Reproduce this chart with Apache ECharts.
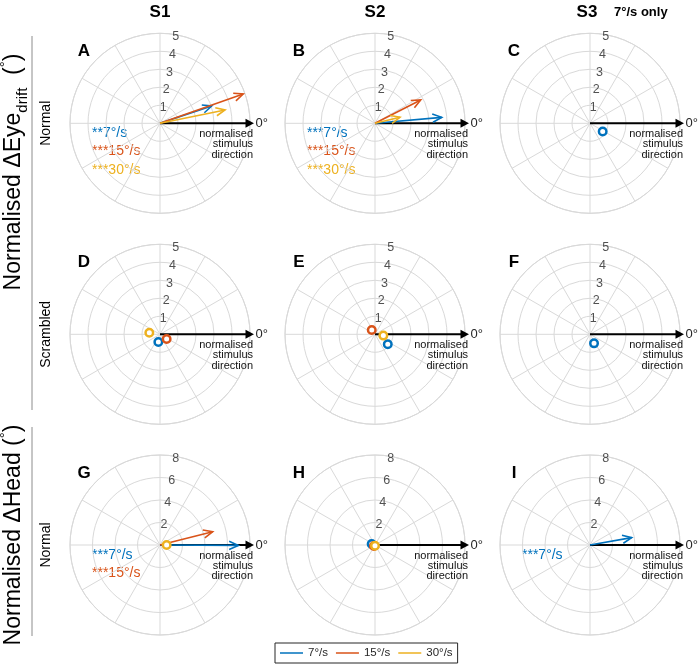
<!DOCTYPE html>
<html><head><meta charset="utf-8">
<script src="https://cdn.jsdelivr.net/npm/echarts@6/dist/echarts.min.js"></script>
<style>html,body{margin:0;padding:0;background:#fff}#c{width:700px;height:667px}</style>
</head><body><div id="c"></div>
<script>
// ---------- data ----------
const speeds = ['7°/s', '15°/s', '30°/s'];
const speedColors = ['#0072BD', '#D95319', '#EDB120'];
const columnTitles = ['S1', 'S2', 'S3'];
const s3Note = '7°/s only';
const rowLabels = ['Normal', 'Scrambled', 'Normal'];
const panelLetters = ['A', 'B', 'C', 'D', 'E', 'F', 'G', 'H', 'I'];
const eyeTicks = [1, 2, 3, 4, 5];
const headTicks = [2, 4, 6, 8];
const eyeMax = 5, headMax = 8;
const refLabel = ['normalised', 'stimulus', 'direction'];
const zeroLabel = '0°';

// magnitude / direction (deg) per speed [7, 15, 30]
const magA = [3.03, 4.90, 3.69], dirA = [18.5, 19.4, 11.6];
const markA = ['arrow', 'arrow', 'arrow'], sigA = ['**', '***', '***'];
const magB = [3.72, 2.85, 1.43], dirB = [5.1, 27.0, 13.5];
const markB = ['arrow', 'arrow', 'arrow'], sigB = ['***', '***', '***'];
const magC = [0.84], dirC = [327];
const markC = ['circle'], sigC = [];
const magD = [0.44, 0.45, 0.60], dirD = [258, 325, 171.5];
const markD = ['circle', 'circle', 'circle'], sigD = [];
const magE = [0.90, 0.30, 0.47], dirE = [322, 127, 351];
const markE = ['circle', 'circle', 'circle'], sigE = [];
const magF = [0.55], dirF = [294];
const markF = ['circle'], sigF = [];
const magG = [6.96, 4.83, 0.59], dirG = [359.7, 14.2, 0];
const markG = ['arrow', 'arrow', 'circle'], sigG = ['***', '***'];
const magH = [0.31, 0.13, 0.06], dirH = [163, 225, 270];
const markH = ['circle', 'circle', 'circle'], sigH = [];
const magI = [3.76], dirI = [10];
const markI = ['arrow'], sigI = ['***'];

const panels = [
  { mag: magA, dir: dirA, mark: markA, sig: sigA, ticks: eyeTicks, max: eyeMax },
  { mag: magB, dir: dirB, mark: markB, sig: sigB, ticks: eyeTicks, max: eyeMax },
  { mag: magC, dir: dirC, mark: markC, sig: sigC, ticks: eyeTicks, max: eyeMax },
  { mag: magD, dir: dirD, mark: markD, sig: sigD, ticks: eyeTicks, max: eyeMax },
  { mag: magE, dir: dirE, mark: markE, sig: sigE, ticks: eyeTicks, max: eyeMax },
  { mag: magF, dir: dirF, mark: markF, sig: sigF, ticks: eyeTicks, max: eyeMax },
  { mag: magG, dir: dirG, mark: markG, sig: sigG, ticks: headTicks, max: headMax },
  { mag: magH, dir: dirH, mark: markH, sig: sigH, ticks: headTicks, max: headMax },
  { mag: magI, dir: dirI, mark: markI, sig: sigI, ticks: headTicks, max: headMax }
];

// ---------- layout ----------
const colX = [160, 375, 590];
const rowY = [123.3, 334.3, 545];
const R = 90;
const FONT = "'Liberation Sans', Arial, Helvetica, sans-serif";
const gridColor = '#d9d9d9';
const txt = '#262626';

const polar = [], angleAxis = [], radiusAxis = [], series = [], graphic = [];

panels.forEach((p, i) => {
  const cx = colX[i % 3], cy = rowY[Math.floor(i / 3)];
  polar.push({ center: [cx, cy], radius: R });
  angleAxis.push({
    polarIndex: i, type: 'value', min: 0, max: 360, interval: 30,
    startAngle: 0, clockwise: false,
    axisLine: { show: true, lineStyle: { color: gridColor, width: 1 } },
    axisTick: { show: false }, axisLabel: { show: false },
    splitLine: { show: true, lineStyle: { color: gridColor, width: 1 } },
    splitArea: { show: false }
  });
  const step = p.ticks[1] - p.ticks[0];
  radiusAxis.push({
    polarIndex: i, type: 'value', min: 0, max: p.max, interval: step,
    axisLine: { show: false }, axisTick: { show: false }, axisLabel: { show: false },
    splitLine: { show: true, lineStyle: { color: gridColor, width: 1 } },
    splitArea: { show: false }
  });

  // radial tick labels along 80 deg
  series.push({
    type: 'scatter', coordinateSystem: 'polar', polarIndex: i, silent: true,
    symbolSize: 0, z: 1,
    data: p.ticks.map(t => [t, 80]),
    label: {
      show: true, position: 'inside', offset: [0, 2],
      formatter: d => String(d.value[0]),
      color: txt, fontSize: 12.5, fontFamily: FONT
    }
  });

  // reference stimulus-direction arrow
  series.push({
    type: 'custom', coordinateSystem: 'polar', polarIndex: i, silent: true, z: 2,
    data: [[p.max, 0]],
    renderItem: (params, api) => {
      const p0 = api.coord([0, 0]);
      const p1 = api.coord([api.value(0), api.value(1)]);
      const tip = p1[0] + 4;
      return {
        type: 'group', children: [
          { type: 'line', shape: { x1: p0[0], y1: p0[1], x2: tip - 7, y2: p1[1] },
            style: { stroke: '#000', lineWidth: 2 } },
          { type: 'polygon', shape: { points: [[tip, p1[1]], [tip - 8.5, p1[1] - 4.5], [tip - 8.5, p1[1] + 4.5]] },
            style: { fill: '#000' } },
          { type: 'text', x: tip + 1.5, y: p1[1], style: { text: zeroLabel, fill: txt, font: '13px ' + FONT, align: 'left', verticalAlign: 'middle' } },
          ...refLabel.map((s, k) => ({
            type: 'text', x: tip - 1, y: p1[1] + 10.7 + 10.3 * k,
            style: { text: s, fill: '#111', font: '11px ' + FONT, align: 'right', verticalAlign: 'middle' }
          }))
        ]
      };
    }
  });

  // data marks
  p.mag.forEach((m, k) => {
    if (m == null) return;
    const color = speedColors[k];
    if (p.mark[k] === 'arrow') {
      series.push({
        type: 'custom', name: speeds[k], coordinateSystem: 'polar', polarIndex: i, z: 3,
        itemStyle: { color },
        data: [[m, p.dir[k]]],
        renderItem: (params, api) => {
          const a = api.value(1);
          const p0 = api.coord([0, a]);
          const p1 = api.coord([api.value(0), a]);
          const dx = p1[0] - p0[0], dy = p1[1] - p0[1];
          const L = Math.hypot(dx, dy) || 1;
          const ux = -dx / L, uy = -dy / L;
          const hl = 10, ha = 24 * Math.PI / 180;
          const rot = (t) => [ux * Math.cos(t) - uy * Math.sin(t), ux * Math.sin(t) + uy * Math.cos(t)];
          const b1 = rot(ha), b2 = rot(-ha);
          return {
            type: 'group', children: [
              { type: 'line', shape: { x1: p0[0], y1: p0[1], x2: p1[0], y2: p1[1] },
                style: { stroke: color, lineWidth: 1.6 } },
              { type: 'polyline', shape: { points: [[p1[0] + b1[0] * hl, p1[1] + b1[1] * hl], [p1[0], p1[1]], [p1[0] + b2[0] * hl, p1[1] + b2[1] * hl]] },
                style: { stroke: color, lineWidth: 1.6, fill: null } }
            ]
          };
        }
      });
    } else {
      series.push({
        type: 'scatter', name: speeds[k], coordinateSystem: 'polar', polarIndex: i, z: 4,
        symbol: 'circle', symbolSize: 7.5,
        itemStyle: { color: '#fff', borderColor: color, borderWidth: 2.5, opacity: 1 },
        data: [[m, p.dir[k]]]
      });
    }
  });

  // significance / speed labels
  p.sig.forEach((s, k) => {
    graphic.push({
      type: 'text', x: cx - 68, y: cy + 10 + 18.2 * k, silent: true,
      style: { text: s + speeds[k], fill: speedColors[k], font: '14px ' + FONT, align: 'left', verticalAlign: 'middle' }
    });
  });

  // panel letter
  graphic.push({
    type: 'text', x: cx - 76, y: cy - 72, silent: true,
    style: { text: panelLetters[i], fill: '#000', font: 'bold 17px ' + FONT, align: 'center', verticalAlign: 'middle' }
  });
});

// column titles
columnTitles.forEach((t, c) => {
  graphic.push({
    type: 'text', x: c === 2 ? colX[c] - 3 : colX[c], y: 12, silent: true,
    style: { text: t, fill: '#000', font: 'bold 17px ' + FONT, align: 'center', verticalAlign: 'middle' }
  });
});
graphic.push({
  type: 'text', x: 614, y: 12, silent: true,
  style: { text: s3Note, fill: '#000', font: 'bold 13px ' + FONT, align: 'left', verticalAlign: 'middle' }
});

// row labels
rowLabels.forEach((t, r) => {
  graphic.push({
    type: 'text', x: 46, y: rowY[r], rotation: Math.PI / 2, silent: true,
    style: { text: t, fill: '#000', font: '14px ' + FONT, align: 'center', verticalAlign: 'middle' }
  });
});

// bracket lines
graphic.push({ type: 'line', silent: true, shape: { x1: 32, y1: 36, x2: 32, y2: 410 }, style: { stroke: '#8c8c8c', lineWidth: 1 } });
graphic.push({ type: 'line', silent: true, shape: { x1: 32, y1: 427, x2: 32, y2: 636 }, style: { stroke: '#8c8c8c', lineWidth: 1 } });

// side axis titles
const sideRich = {
  n: { fontSize: 23, fontFamily: FONT, color: '#000', lineHeight: 32 },
  sub: { fontSize: 15, fontFamily: FONT, color: '#000', lineHeight: 15, verticalAlign: 'bottom' },
  sup: { fontSize: 15, fontFamily: FONT, color: '#000', lineHeight: 26, verticalAlign: 'top' }
};
graphic.push({
  type: 'text', x: 14, y: 172, rotation: Math.PI / 2, silent: true,
  style: { text: '{n|Normalised ΔEye}{sub|drift}{n|  (}{sup|°}{n|)}', rich: sideRich, align: 'center', verticalAlign: 'middle' }
});
graphic.push({
  type: 'text', x: 14, y: 535, rotation: Math.PI / 2, silent: true,
  style: { text: '{n|Normalised ΔHead (}{sup|°}{n|)}', rich: sideRich, align: 'center', verticalAlign: 'middle' }
});

const option = {
  animation: false,
  backgroundColor: '#fff',
  polar, angleAxis, radiusAxis, series, graphic,
  legend: {
    left: 275, top: 643, orient: 'horizontal',
    data: speeds.map((n, k) => ({ name: n, icon: 'rect', itemStyle: { color: speedColors[k] } })),
    itemWidth: 23, itemHeight: 1.5, itemGap: 8,
    padding: [4, 5], borderColor: '#262626', borderWidth: 1, backgroundColor: '#fff',
    textStyle: { fontSize: 11.5, color: txt, fontFamily: FONT },
    selectedMode: false
  }
};

const chart = echarts.init(document.getElementById('c'), null, { renderer: 'canvas' });
chart.setOption(option);
</script>
</body></html>
